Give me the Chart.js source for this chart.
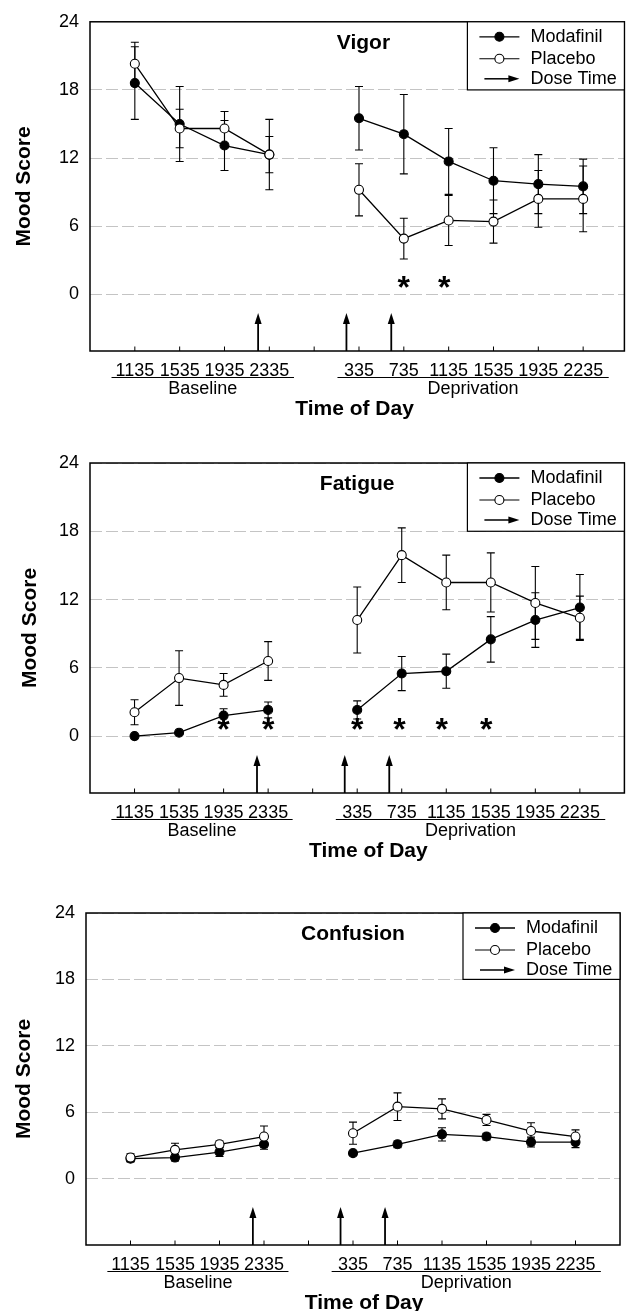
<!DOCTYPE html>
<html>
<head>
<meta charset="utf-8">
<script src="https://cdn.jsdelivr.net/npm/chart.js@4.4.0/dist/chart.umd.min.js"></script>
<style>
  body { margin: 0; background: #fff; }
  canvas { position: absolute; left: 0; }
</style>
</head>
<body>
<canvas id="vigor" width="630" height="440" style="top:0"></canvas>
<canvas id="fatigue" width="630" height="440" style="top:440px"></canvas>
<canvas id="confusion" width="630" height="431" style="top:880px"></canvas>
<script>
// Horas de medición (el índice 4 es el hueco entre Baseline y Deprivation)
const timeLabels = ['1135', '1535', '1935', '2335', '', '335', '735', '1135', '1535', '1935', '2235'];
const moodTicks = [0, 6, 12, 18, 24];
const doseTimes = [2.75, 4.72, 5.72];

// Vigor
const vigorModafinil = [18.6, 15.0, 13.1, 12.3, null, 15.5, 14.1, 11.7, 10.0, 9.7, 9.5];
const vigorModafinilSE = [3.2, 3.3, 2.2, 3.1, null, 2.8, 3.5, 2.9, 2.9, 2.6, 2.4];
const vigorPlacebo = [20.3, 14.6, 14.6, 12.3, null, 9.2, 4.9, 6.5, 6.4, 8.4, 8.4];
const vigorPlaceboSE = [1.9, 1.7, 1.5, 1.6, null, 2.3, 1.8, 2.2, 1.9, 2.5, 2.9];
const vigorStars = [6, 6.9];

// Fatigue
const fatigueModafinil = [0.0, 0.3, 1.8, 2.3, null, 2.3, 5.5, 5.7, 8.5, 10.2, 11.3];
const fatigueModafinilSE = [0, 0, 0.6, 0.7, null, 0.8, 1.5, 1.5, 2.0, 2.4, 2.9];
const fatiguePlacebo = [2.1, 5.1, 4.5, 6.6, null, 10.2, 15.9, 13.5, 13.5, 11.7, 10.4];
const fatiguePlaceboSE = [1.1, 2.4, 1.0, 1.7, null, 2.9, 2.4, 2.4, 2.6, 3.2, 1.9];
const fatigueStars = [2, 3, 5, 5.95, 6.9, 7.9];

// Confusion
const confusionModafinil = [1.8, 1.9, 2.4, 3.1, null, 2.3, 3.1, 4.0, 3.8, 3.3, 3.3];
const confusionModafinilSE = [0.3, 0.3, 0.4, 0.45, null, 0.2, 0.3, 0.6, 0.3, 0.45, 0.5];
const confusionPlacebo = [1.9, 2.6, 3.1, 3.8, null, 4.1, 6.5, 6.3, 5.3, 4.3, 3.8];
const confusionPlaceboSE = [0.35, 0.6, 0.3, 0.95, null, 1.0, 1.25, 0.9, 0.5, 0.75, 0.6];
const confusionStars = [];

const starLevel = 0.8;

Chart.defaults.font.family = '"Liberation Sans", Arial, sans-serif';
Chart.defaults.color = '#000';

const panels = [
  { id: 'vigor', title: 'Vigor', mod: vigorModafinil, modErr: vigorModafinilSE, pla: vigorPlacebo, plaErr: vigorPlaceboSE,
    stars: vigorStars, height: 440, left: 90, top: 17, right: 626, bottom: 351, yMin: -5, xMax: 10.92,
    titleAt: 5.1, todAt: 4.9, yTitlePad: 12 },
  { id: 'fatigue', title: 'Fatigue', mod: fatigueModafinil, modErr: fatigueModafinilSE, pla: fatiguePlacebo, plaErr: fatiguePlaceboSE,
    stars: fatigueStars, height: 440, left: 90, top: 23, right: 625, bottom: 353, yMin: -5, xMax: 11,
    titleAt: 5, todAt: 5.25, yTitlePad: 18 },
  { id: 'confusion', title: 'Confusion', mod: confusionModafinil, modErr: confusionModafinilSE, pla: confusionPlacebo, plaErr: confusionPlaceboSE,
    stars: confusionStars, height: 431, left: 86, top: 33, right: 620, bottom: 365, yMin: -6, xMax: 11,
    titleAt: 5, todAt: 5.25, yTitlePad: 12 }
];

const toPoints = arr => arr.map((v, i) => ({ x: i, y: v }));

function drawCircle(ctx, cx, cy, filled) {
  ctx.beginPath();
  ctx.arc(cx, cy, 4.5, 0, Math.PI * 2);
  ctx.fillStyle = filled ? '#000' : '#fff';
  ctx.fill();
  ctx.lineWidth = 1.1;
  ctx.stroke();
}

// Barras de error, marco, flechas, asteriscos, leyenda y rótulos
function makeDecor(p) {
  return {
    id: 'decor_' + p.id,
    beforeDatasetsDraw(chart) {
      const { ctx, scales: { x, y } } = chart;
      ctx.save();
      ctx.strokeStyle = '#000';
      ctx.lineWidth = 1.1;
      [[p.mod, p.modErr], [p.pla, p.plaErr]].forEach(([m, e]) => {
        m.forEach((v, i) => {
          if (v == null || !e[i]) return;
          const px = x.getPixelForValue(i);
          const y1 = y.getPixelForValue(v + e[i]);
          const y2 = y.getPixelForValue(v - e[i]);
          ctx.beginPath();
          ctx.moveTo(px, y1); ctx.lineTo(px, y2);
          ctx.moveTo(px - 4, y1); ctx.lineTo(px + 4, y1);
          ctx.moveTo(px - 4, y2); ctx.lineTo(px + 4, y2);
          ctx.stroke();
        });
      });
      ctx.restore();
    },
    afterDraw(chart) {
      const { ctx, chartArea: a, scales: { x, y } } = chart;
      ctx.save();
      ctx.strokeStyle = '#000';
      ctx.fillStyle = '#000';

      // marco
      ctx.lineWidth = 1.5;
      ctx.strokeRect(a.left, a.top, a.right - a.left, a.bottom - a.top);

      // marcas hacia dentro del eje x
      ctx.lineWidth = 1;
      timeLabels.forEach((_, i) => {
        const px = x.getPixelForValue(i);
        ctx.beginPath(); ctx.moveTo(px, a.bottom); ctx.lineTo(px, a.bottom - 4.5); ctx.stroke();
      });

      // flechas de dosis
      ctx.lineWidth = 1.8;
      doseTimes.forEach(t => {
        const px = x.getPixelForValue(t);
        const tip = a.bottom - 38;
        ctx.beginPath(); ctx.moveTo(px, a.bottom); ctx.lineTo(px, tip + 6); ctx.stroke();
        ctx.beginPath(); ctx.moveTo(px, tip); ctx.lineTo(px - 3.5, tip + 11); ctx.lineTo(px + 3.5, tip + 11);
        ctx.closePath(); ctx.fill();
      });

      // asteriscos
      ctx.font = 'bold 32px "Liberation Sans", Arial, sans-serif';
      ctx.textAlign = 'center';
      ctx.textBaseline = 'alphabetic';
      p.stars.forEach(s => {
        ctx.fillText('*', x.getPixelForValue(s), y.getPixelForValue(starLevel) + 13);
      });

      // título del panel
      ctx.font = 'bold 21px "Liberation Sans", Arial, sans-serif';
      ctx.textBaseline = 'middle';
      ctx.fillText(p.title, x.getPixelForValue(p.titleAt), a.top + 21);

      // leyenda
      const lw = 157;
      const lx = a.right - lw;
      const lh = y.getPixelForValue(18) - a.top;
      ctx.fillStyle = '#fff';
      ctx.fillRect(lx, a.top, lw, lh);
      ctx.lineWidth = 1.2;
      ctx.strokeRect(lx, a.top, lw, lh);
      ctx.font = '18px "Liberation Sans", Arial, sans-serif';
      ctx.textAlign = 'left';
      const rows = [a.top + 15, a.top + 37, a.top + 57];
      ctx.lineWidth = 1.3;
      [0, 1].forEach(k => {
        ctx.beginPath(); ctx.moveTo(lx + 12, rows[k]); ctx.lineTo(lx + 52, rows[k]); ctx.stroke();
        drawCircle(ctx, lx + 32, rows[k], k === 0);
      });
      ctx.fillStyle = '#000';
      ctx.lineWidth = 1.5;
      ctx.beginPath(); ctx.moveTo(lx + 17, rows[2]); ctx.lineTo(lx + 44, rows[2]); ctx.stroke();
      ctx.beginPath(); ctx.moveTo(lx + 52, rows[2]); ctx.lineTo(lx + 41, rows[2] - 3.5); ctx.lineTo(lx + 41, rows[2] + 3.5);
      ctx.closePath(); ctx.fill();
      ctx.fillText('Modafinil', lx + 63, rows[0]);
      ctx.fillText('Placebo', lx + 63, rows[1]);
      ctx.fillText('Dose Time', lx + 63, rows[2]);

      // subrayados y grupos
      ctx.lineWidth = 1;
      const uy = a.bottom + 26.5;
      [[-0.52, 3.55, 'Baseline'], [4.52, 10.57, 'Deprivation']].forEach(([g0, g1, name]) => {
        const x0 = x.getPixelForValue(g0), x1 = x.getPixelForValue(g1);
        ctx.beginPath(); ctx.moveTo(x0, uy); ctx.lineTo(x1, uy); ctx.stroke();
        ctx.textAlign = 'center';
        ctx.fillText(name, (x0 + x1) / 2, a.bottom + 38);
      });
      ctx.font = 'bold 21px "Liberation Sans", Arial, sans-serif';
      ctx.fillText('Time of Day', x.getPixelForValue(p.todAt), a.bottom + 58);
      ctx.restore();
    }
  };
}

panels.forEach(p => {
  new Chart(document.getElementById(p.id).getContext('2d'), {
    type: 'line',
    data: {
      datasets: [
        { label: 'Placebo', data: toPoints(p.pla), order: 0, borderColor: '#000', borderWidth: 1.3,
          pointRadius: 4.5, pointBackgroundColor: '#fff', pointBorderColor: '#000', pointBorderWidth: 1.1 },
        { label: 'Modafinil', data: toPoints(p.mod), order: 1, borderColor: '#000', borderWidth: 1.3,
          pointRadius: 4.5, pointBackgroundColor: '#000', pointBorderColor: '#000', pointBorderWidth: 1.1 }
      ]
    },
    options: {
      responsive: false,
      animation: false,
      layout: { padding: { left: 0, top: p.top, right: 630 - p.right, bottom: 0 } },
      plugins: { legend: { display: false }, tooltip: { enabled: false } },
      scales: {
        x: {
          type: 'linear', min: -1, max: p.xMax,
          afterBuildTicks: s => { s.ticks = timeLabels.map((_, i) => ({ value: i })); },
          afterFit: s => { s.height = p.height - p.bottom; },
          grid: { display: false },
          border: { display: false },
          ticks: { autoSkip: false, maxRotation: 0, padding: 1, font: { size: 18 },
                   callback: v => timeLabels[v] ?? '' }
        },
        y: {
          type: 'linear', min: p.yMin, max: 24,
          afterBuildTicks: s => { s.ticks = moodTicks.map(v => ({ value: v })); },
          afterFit: s => { s.width = p.left; },
          grid: { color: '#c4c4c4', lineWidth: 1, drawTicks: false },
          border: { display: false, dash: [12, 4] },
          ticks: { padding: 11, font: { size: 18 } },
          title: { display: true, text: 'Mood Score', padding: { top: p.yTitlePad, bottom: 0 },
                   font: { size: 21, weight: 'bold' } }
        }
      }
    },
    plugins: [makeDecor(p)]
  });
});
</script>
</body>
</html>
